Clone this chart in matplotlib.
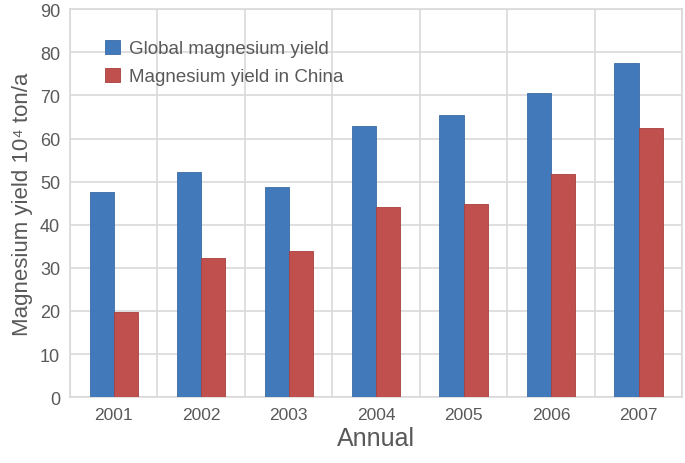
import numpy as np
import matplotlib
matplotlib.use("Agg")
import matplotlib.pyplot as plt

plt.rcParams['font.family'] = ['Liberation Sans', 'DejaVu Sans']

years = ['2001', '2002', '2003', '2004', '2005', '2006', '2007']
global_yield = [47.7, 52.3, 48.8, 63.0, 65.5, 70.6, 77.5]
china_yield = [19.8, 32.2, 34.0, 44.0, 44.9, 51.8, 62.5]
yticks = [0, 10, 20, 30, 40, 50, 60, 70, 80, 90]

blue = '#4279BA'
red = '#C0504D'
txt = '#595959'
grid = '#D9D9D9'

fig = plt.figure(figsize=(6.85, 4.64), dpi=100)
ax = fig.add_axes([0.102, 0.142, 0.894, 0.836])

x = np.arange(len(years))
w = 0.275
ax.bar(x - w / 2, global_yield, w, color=blue, edgecolor='#3A6BA5', linewidth=0.6,
       label='Global magnesium yield', zorder=3)
ax.bar(x + w / 2, china_yield, w, color=red, edgecolor='#A8403D', linewidth=0.6,
       label='Magnesium yield in China', zorder=3)

ax.set_xlim(-0.5, len(years) - 0.5)
ax.set_ylim(0, 90)
ax.set_yticks(yticks)
ax.set_xticks(x)
ax.set_xticklabels(years)

# grid lines between categories and at each y tick
ax.set_xticks(np.arange(len(years) + 1) - 0.5, minor=True)
ax.grid(True, which='minor', axis='x', color=grid, linewidth=1.2, zorder=0)
ax.grid(True, which='major', axis='y', color=grid, linewidth=1.2, zorder=0)
ax.tick_params(which='both', length=0)
ax.tick_params(axis='y', labelsize=13, labelcolor=txt, pad=7)
ax.tick_params(axis='x', labelsize=12.5, labelcolor=txt, pad=7)

for side in ax.spines.values():
    side.set_color(grid)
    side.set_linewidth(1.2)

ax.set_ylabel('Magnesium yield 10\u2074 ton/a', fontsize=16, color=txt, labelpad=5)
ax.set_xlabel('Annual', fontsize=18, color=txt, labelpad=3)

leg = ax.legend(loc='upper left', bbox_to_anchor=(0.03, 0.965), frameon=False,
                fontsize=13.5, handlelength=0.8, handleheight=0.8, handletextpad=0.45,
                labelspacing=0.55, labelcolor=txt)

fig.savefig('out.png', dpi=100)
